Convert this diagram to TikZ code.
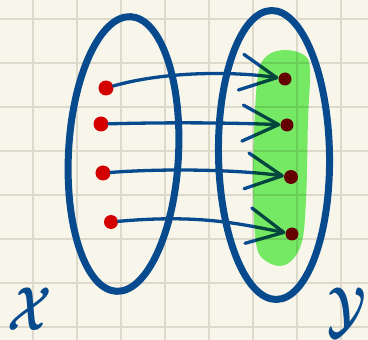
\documentclass[tikz,border=0pt]{standalone}
\usepackage{amsmath,bm}
\usetikzlibrary{arrows.meta}
\definecolor{paper}{HTML}{F8F6EA}
\definecolor{gridc}{HTML}{DDDACB}
\definecolor{inkblue}{HTML}{074A8E}
\definecolor{dotred}{HTML}{D40000}
\definecolor{hilite}{HTML}{7AF26E}
\tikzset{
  setring/.style={draw=inkblue,line width=7pt},
  dot/.style={circle,fill=dotred,inner sep=0pt,minimum size=15pt},
  maparrow/.style={draw=inkblue,line width=3.3pt,line cap=round,
    -{Straight Barb[length=36pt,width=36pt,round]}},
  setlabel/.style={text=inkblue,inner sep=0pt,xscale=4.6,yscale=6.2}
}
\begin{document}
\begin{tikzpicture}[x=1pt,y=-1pt]
\useasboundingbox (0,0) rectangle (368,340);
\fill[paper] (0,0) rectangle (368,340);
% grid
\foreach \g in {33,77,121,165,209,253,297,341}
  \draw[gridc,line width=1.3pt] (\g,0) -- (\g,340);
\foreach \g in {19,63,107,151,195,239,283,327}
  \draw[gridc,line width=1.3pt] (0,\g) -- (368,\g);
% sets
\draw[setring,rotate around={-3:(123.5,154)}] (123.5,154) ellipse [x radius=55, y radius=137.5];
\draw[setring,rotate around={1:(274,155)}] (274,155) ellipse [x radius=55.5, y radius=144.5];
% dots
\node[dot] (l1) at (106,88) {};
\node[dot] (l2) at (101,124) {};
\node[dot] (l3) at (103,173) {};
\node[dot,minimum size=14pt] (l4) at (111,222) {};
\node[dot,minimum size=13pt] (r1) at (285,79) {};
\node[dot,minimum size=13pt] (r2) at (287,125) {};
\node[dot,minimum size=14pt] (r3) at (291,177) {};
\node[dot,minimum size=13pt] (r4) at (292,234) {};
% arrows
\draw[maparrow] (l1) .. controls (170,70) and (240,72) .. (r1);
\draw[maparrow] (l2) .. controls (180,122) and (240,123) .. (r2);
\draw[maparrow] (l3) .. controls (170,168) and (240,170) .. (r3);
\draw[maparrow] (l4) .. controls (200,214) and (240,224) .. (r4);
% highlighter
\begin{scope}[blend mode=multiply]
\fill[hilite] plot[smooth cycle,tension=0.6] coordinates {(285,50) (304,55) (310,70) (308,120) (306,200) (301,245) (285,265) (266,261) (256,243) (253,180) (255,110) (259,70) (268,55)};
\end{scope}
% labels
\node[setlabel] (X) at (30,309) {$\bm{\mathcal{X}}$};
\node[setlabel] (Y) at (347,312) {$\bm{\mathcal{Y}}$};
\end{tikzpicture}
\end{document}
